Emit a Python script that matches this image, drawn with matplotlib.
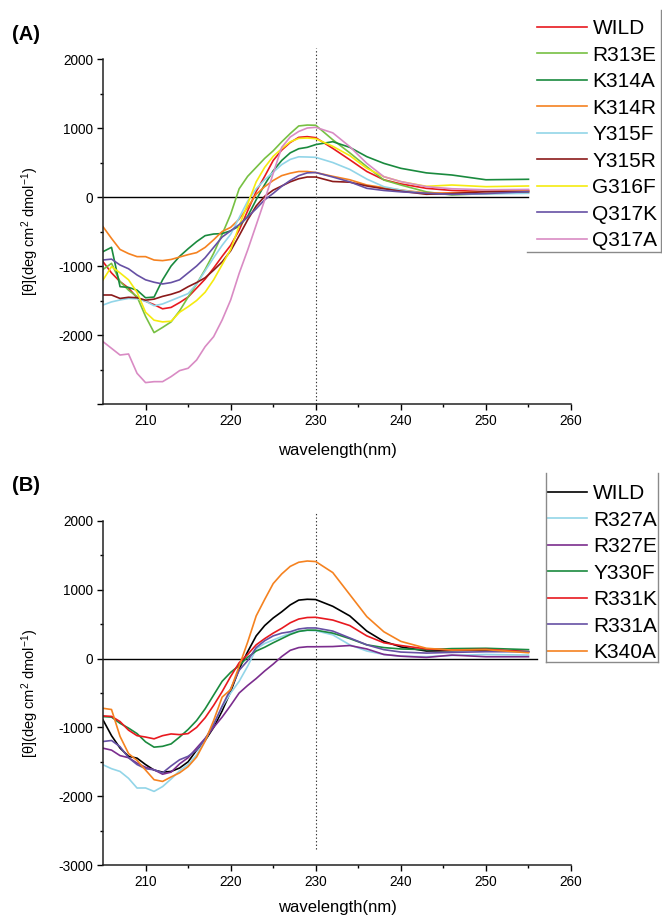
import matplotlib.pyplot as plt
from matplotlib.lines import Line2D

plt.rcParams["font.family"] = ["Liberation Sans", "DejaVu Sans"]
plt.rcParams["mathtext.fontset"] = "custom"
plt.rcParams["mathtext.rm"] = "Liberation Sans"
plt.rcParams["mathtext.default"] = "rm"

# wavelength grid (nm), shared by every curve
wl = [205, 206, 207, 208, 209, 210, 211, 212, 213, 214, 215, 216, 217, 218,
      219, 220, 221, 222, 223, 224, 225, 226, 227, 228, 229, 230,
      232, 234, 236, 238, 240, 243, 246, 250, 255]

# ---- panel (A) ----
labels_a = ["WILD", "R313E", "K314A", "K314R", "Y315F", "Y315R", "G316F", "Q317K", "Q317A"]
colors_a = ["#e8191f", "#77c043", "#1a8a3e", "#f58220", "#92d5e8",
            "#8b1a1a", "#f5eb0f", "#6650a4", "#d98bc4"]

wild_a = [-937, -1100, -1226, -1320, -1460, -1510, -1560, -1620, -1600, -1530, -1450, -1320, -1190, -1030,
          -860, -700, -480, -200, 80, 300, 530, 680, 790, 865, 875, 860,
          705, 540, 370, 250, 190, 126, 95, 80, 92]
r313e = [-1050, -961, -1226, -1350, -1444, -1730, -1965, -1890, -1810, -1650, -1450, -1260, -1050, -816,
         -540, -250, 120, 300, 430, 560, 670, 800, 920, 1030, 1043, 1040,
         830, 640, 440, 247, 174, 75, 29, 50, 63]
k314a = [-792, -729, -1299, -1310, -1350, -1460, -1450, -1200, -1000, -860, -750, -647, -560, -536,
         -530, -490, -420, -280, -40, 180, 380, 530, 640, 700, 720, 760,
         802, 720, 585, 488, 416, 350, 319, 250, 257]
k314r = [-430, -600, -760, -820, -864, -864, -913, -922, -905, -870, -835, -806, -730, -620,
         -500, -440, -320, -150, 40, 150, 240, 310, 345, 370, 370, 355,
         300, 250, 174, 136, 102, 58, 60, 80, 95]
y315f = [-1565, -1520, -1492, -1470, -1475, -1510, -1575, -1550, -1500, -1450, -1400, -1260, -1070, -880,
         -700, -540, -300, -60, 120, 250, 360, 470, 545, 583, 580, 575,
         500, 400, 260, 150, 100, 45, 39, 45, 54]
y315r = [-1420, -1420, -1470, -1453, -1460, -1495, -1480, -1440, -1410, -1370, -1300, -1240, -1170, -1060,
         -940, -780, -560, -330, -130, 10, 100, 160, 220, 265, 290, 290,
         225, 215, 160, 120, 85, 40, 50, 78, 78]
g316f = [-1202, -1009, -1100, -1200, -1380, -1670, -1785, -1810, -1800, -1670, -1590, -1500, -1380, -1200,
         -980, -760, -420, -100, 220, 430, 590, 700, 800, 850, 855, 845,
         735, 600, 416, 295, 223, 155, 174, 150, 160]
q317k = [-913, -900, -985, -1040, -1130, -1200, -1235, -1260, -1240, -1200, -1100, -1000, -880, -730,
         -580, -490, -400, -290, -170, -40, 53, 155, 240, 310, 350, 355,
         290, 220, 126, 95, 75, 55, 39, 50, 78]
q317a = [-2096, -2193, -2290, -2275, -2555, -2690, -2676, -2676, -2603, -2516, -2482, -2362, -2169, -2024,
         -1782, -1492, -1106, -768, -406, -43, 343, 720, 870, 950, 1000, 1010,
         930, 730, 488, 295, 223, 150, 120, 105, 110]
series_a = [wild_a, r313e, k314a, k314r, y315f, y315r, g316f, q317k, q317a]

# ---- panel (B) ----
labels_b = ["WILD", "R327A", "R327E", "Y330F", "R331K", "R331A", "K340A"]
colors_b = ["#000000", "#92d5e8", "#7b2d8e", "#1a8a3e", "#e8191f", "#6650a4", "#f58220"]

wild_b = [-891, -1120, -1300, -1420, -1447, -1540, -1620, -1650, -1640, -1590, -1500, -1330, -1190, -1000,
          -760, -480, -150, 100, 330, 480, 590, 680, 780, 850, 862, 858,
          760, 620, 400, 250, 170, 110, 115, 124, 100]
r327a = [-1543, -1600, -1640, -1740, -1881, -1880, -1930, -1860, -1750, -1630, -1540, -1400, -1180, -950,
         -700, -500, -330, -110, 140, 220, 270, 320, 365, 395, 410, 405,
         345, 200, 110, 60, 35, 27, 45, 60, 51]
r327e = [-1302, -1330, -1410, -1440, -1519, -1580, -1616, -1680, -1650, -1530, -1440, -1300, -1160, -1000,
         -850, -680, -500, -390, -290, -180, -80, 30, 120, 160, 172, 172,
         175, 190, 140, 60, 35, 17, 51, 27, 27]
y330f = [-843, -850, -940, -1010, -1090, -1210, -1287, -1275, -1240, -1140, -1030, -900, -730, -530,
         -330, -200, -100, 20, 110, 165, 230, 290, 350, 395, 413, 413,
         370, 290, 200, 160, 140, 130, 145, 150, 130]
r331k = [-833, -840, -915, -1040, -1120, -1140, -1166, -1120, -1095, -1105, -1090, -1000, -860, -680,
         -480, -260, -60, 60, 200, 290, 370, 440, 520, 575, 597, 600,
         560, 480, 330, 230, 190, 140, 125, 134, 100]
r331a = [-1205, -1190, -1280, -1440, -1540, -1600, -1616, -1660, -1560, -1470, -1420, -1330, -1170, -960,
         -690, -440, -170, -30, 160, 260, 330, 370, 390, 430, 445, 445,
         400, 300, 200, 130, 95, 80, 90, 100, 100]
k340a = [-722, -740, -1130, -1380, -1480, -1620, -1760, -1785, -1720, -1660, -1570, -1430, -1200, -900,
         -560, -450, -110, 240, 620, 860, 1090, 1230, 1340, 1400, 1418, 1410,
         1250, 930, 610, 390, 250, 150, 124, 130, 85]
series_b = [wild_b, r327a, r327e, y330f, r331k, r331a, k340a]

fig = plt.figure(figsize=(6.62, 9.18), dpi=100)
ax_a = fig.add_axes([0.1556, 0.5599, 0.7070, 0.3758])
ax_b = fig.add_axes([0.1556, 0.0577, 0.7070, 0.3748])


def style_axis(ax, show_bottom_label, xlabel_y):
    ax.set_xlim(205, 260)
    ax.set_ylim(-3000, 2000)
    for side in ("top", "right"):
        ax.spines[side].set_visible(False)
    for side in ("left", "bottom"):
        ax.spines[side].set_linewidth(1.1)
        ax.spines[side].set_color("#222222")
    ax.set_xticks([210, 220, 230, 240, 250, 260])
    ax.set_xticks([215, 225, 235, 245, 255], minor=True)
    ax.set_yticks([-3000, -2000, -1000, 0, 1000, 2000])
    if show_bottom_label:
        ax.set_yticklabels(["-3000", "-2000", "-1000", "0", "1000", "2000"])
    else:
        ax.set_yticklabels(["", "-2000", "-1000", "0", "1000", "2000"])
    ax.set_yticks([-2500, -1500, -500, 500, 1500], minor=True)
    ax.tick_params(which="major", direction="out", length=4.5, width=1.0, labelsize=9.8, pad=2.5)
    ax.tick_params(which="minor", direction="out", length=2.5, width=1.0)
    ax.set_xlabel("wavelength(nm)", fontsize=12)
    ax.set_ylabel(r"[θ](deg cm$^2$ dmol$^{-1}$)", fontsize=10.5)
    ax.xaxis.set_label_coords(0.5, xlabel_y)
    ax.yaxis.set_label_coords(-0.133, 0.5)


style_axis(ax_a, False, -0.113)
ax_a.plot([205, 255], [0, 0], color="black", lw=1.0, zorder=1)
ax_a.plot([230, 230], [-3000, 2160], color="#333333", lw=0.8, ls=(0, (1.2, 2.0)), clip_on=False, zorder=1)
for y, c, lab in zip(series_a, colors_a, labels_a):
    ax_a.plot(wl, y, color=c, lw=1.2, label=lab)

style_axis(ax_b, True, -0.103)
ax_b.plot([205, 256], [0, 0], color="black", lw=1.0, zorder=1)
ax_b.plot([230, 230], [-2760, 2110], color="#333333", lw=0.8, ls=(0, (1.2, 2.0)), clip_on=False, zorder=1)
for y, c, lab in zip(series_b, colors_b, labels_b):
    ax_b.plot(wl, y, color=c, lw=1.2, label=lab)

leg_a = ax_a.legend(loc="upper left", bbox_to_anchor=(531 / 662, 1 - 13 / 918),
                    bbox_transform=fig.transFigure, frameon=False, fontsize=15,
                    handlelength=2.4, handletextpad=0.25, labelspacing=0.36,
                    borderpad=0.3, borderaxespad=0)
leg_b = ax_b.legend(loc="upper left", bbox_to_anchor=(541 / 662, 1 - 478 / 918),
                    bbox_transform=fig.transFigure, frameon=False, fontsize=15,
                    handlelength=1.9, handletextpad=0.3, labelspacing=0.36,
                    borderpad=0.3, borderaxespad=0)

# partial grey frames around the legends
frame = dict(color="#8a8a8a", lw=1.0, transform=fig.transFigure)
fig.add_artist(Line2D([527 / 662, 661 / 662], [1 - 252 / 918, 1 - 252 / 918], **frame))
fig.add_artist(Line2D([661 / 662, 661 / 662], [1 - 252 / 918, 1 - 10 / 918], **frame))
fig.add_artist(Line2D([546 / 662, 658 / 662], [1 - 662 / 918, 1 - 662 / 918], **frame))
fig.add_artist(Line2D([546 / 662, 546 / 662], [1 - 662 / 918, 1 - 473 / 918], **frame))
fig.add_artist(Line2D([658 / 662, 658 / 662], [1 - 662 / 918, 1 - 473 / 918], **frame))

fig.text(12 / 662, 1 - 34 / 918, "(A)", fontsize=14.5, fontweight="bold", va="center")
fig.text(12 / 662, 1 - 485 / 918, "(B)", fontsize=14.5, fontweight="bold", va="center")

fig.savefig("out.png", dpi=100)
